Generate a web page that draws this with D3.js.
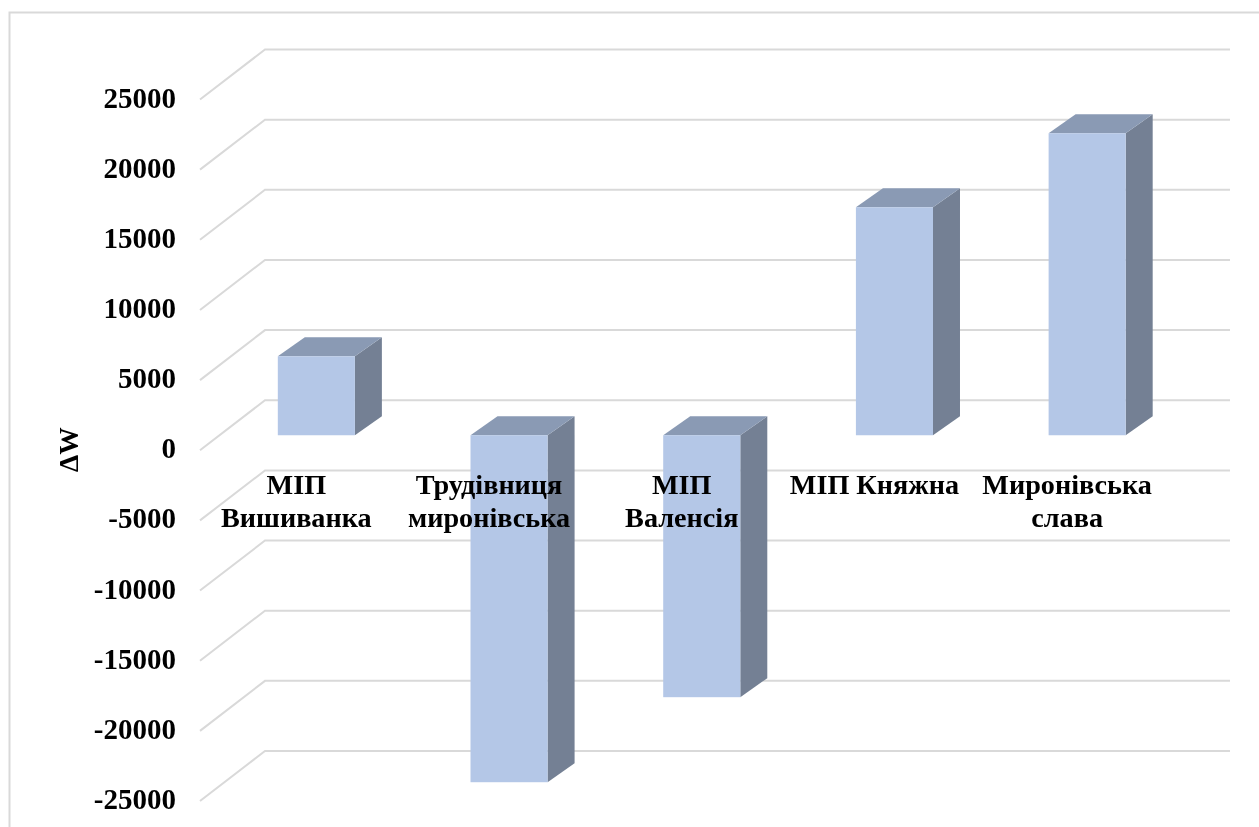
<!DOCTYPE html>
<html><head><meta charset="utf-8">
<script src="https://cdn.jsdelivr.net/npm/d3@7"></script>
<style>html,body{margin:0;padding:0;background:#fff}svg{display:block;filter:blur(0.45px)}text{font-family:"Liberation Serif",serif;font-weight:bold;fill:#000}</style>
</head><body><svg id="c" width="1259" height="827"></svg>
<script>
const categories = [["МІП","Вишиванка"],["Трудівниця","миронівська"],["МІП","Валенсія"],["МІП Княжна"],["Миронівська","слава"]];
const values = [5630,-24730,-18670,16250,21525];
const tickValues = [25000,20000,15000,10000,5000,0,-5000,-10000,-15000,-20000,-25000];
const yTitle = "ΔW";

const svg = d3.select("#c");
const W = 1259, H = 827;
const y = d3.scaleLinear().domain([-25000,25000]).range([751,49.5]);
const x = d3.scaleBand().domain(d3.range(categories.length)).range([200,1163.5]).paddingInner(0.6).paddingOuter(0.3);
const barShift = {dx:20, dy:35}, depth = {dx:27, dy:-19};

svg.append("path").attr("d",`M1259,12.5H9.5V${H}`).attr("fill","none").attr("stroke","#d9d9d9").attr("stroke-width",2);

svg.append("g").selectAll("path").data(tickValues).join("path")
  .attr("d",v=>`M200,${y(v)+50}L265,${y(v)}H1230`)
  .attr("fill","none").attr("stroke","#d9d9d9").attr("stroke-width",2);

svg.append("g").selectAll("text").data(tickValues).join("text")
  .attr("x",176).attr("y",v=>y(v)+58).attr("text-anchor","end").attr("font-size",29)
  .text(v=>String(v));

const bars = svg.append("g").selectAll("g").data(values).join("g");
const fy = v=>y(v)+barShift.dy;
bars.each(function(v,i){
  const g=d3.select(this), l=x(i)+barShift.dx, r=l+x.bandwidth(), t=fy(Math.max(v,0)), b=fy(Math.min(v,0));
  g.append("path").attr("fill","#748094").attr("d",`M${r},${t}L${r+depth.dx},${t+depth.dy}V${b+depth.dy}L${r},${b}Z`);
  g.append("path").attr("fill","#8a9ab4").attr("d",`M${l},${t}L${l+depth.dx},${t+depth.dy}H${r+depth.dx}L${r},${t}Z`);
  g.append("rect").attr("fill","#b4c7e7").attr("x",l).attr("y",t).attr("width",r-l).attr("height",b-t);
});

const lab = svg.append("g").selectAll("text").data(categories).join("text")
  .attr("text-anchor","middle").attr("font-size",28.2);
lab.each(function(c,i){
  d3.select(this).selectAll("tspan").data(c).join("tspan")
    .attr("x",x(i)+x.bandwidth()/2).attr("y",(d,j)=>494+j*33).text(d=>d);
});

svg.append("text").attr("transform","translate(77.5,449.5) rotate(-90)").attr("text-anchor","middle").attr("font-size",27.5).text(yTitle);
</script></body></html>
